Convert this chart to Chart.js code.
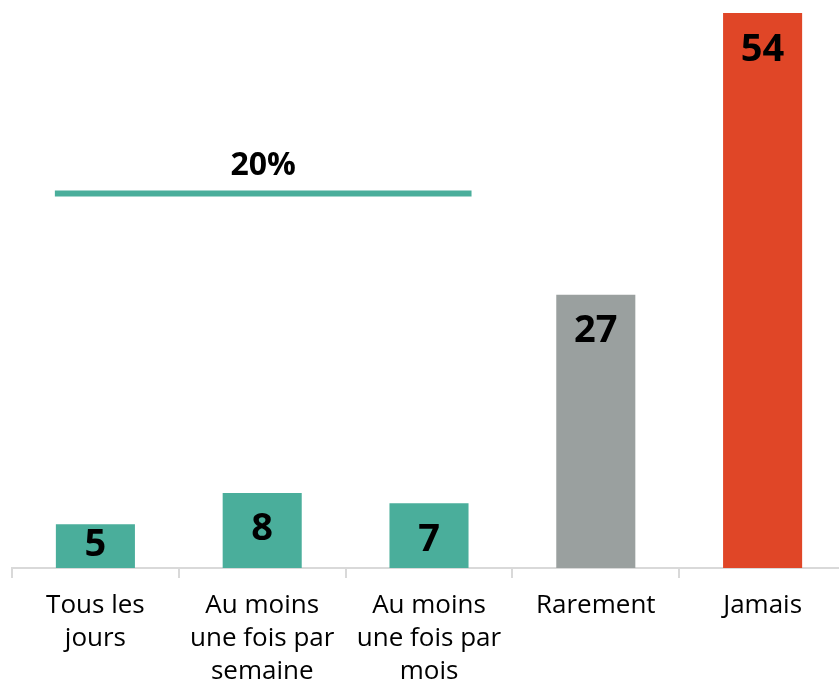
<!DOCTYPE html>
<html>
<head>
<meta charset="utf-8">
<script src="https://cdn.jsdelivr.net/npm/chart.js@4/dist/chart.umd.min.js"></script>
<style>
  html, body { margin: 0; padding: 0; background: #ffffff; overflow: hidden; }
  #wrap { width: 839px; height: 686px; overflow: hidden; }
  canvas { display: block; }
</style>
</head>
<body>
<div id="wrap"><canvas id="c" width="850" height="686"></canvas></div>
<script>
const categories = [["Tous les", "jours"], ["Au moins", "une fois par", "semaine"], ["Au moins", "une fois par", "mois"], "Rarement", "Jamais"];
const values = [5, 8, 7, 27, 54];
const barColors = ["#4AAE9B", "#4AAE9B", "#4AAE9B", "#9AA09F", "#E04627"];
const bracketIndices = [0, 1, 2];
const bracketLevel = 36.7;

const bracketTotal = bracketIndices.reduce((s, i) => s + values[i], 0);
const bracketLabel = bracketTotal + "%";

const FONT = "'Open Sans', 'Noto Sans', sans-serif";

const labelsPlugin = {
  id: 'valueLabels',
  afterDatasetsDraw(chart) {
    const ctx = chart.ctx;
    const meta = chart.getDatasetMeta(0);
    ctx.save();
    ctx.fillStyle = '#000000';
    ctx.font = "bold 38px " + FONT;
    ctx.textAlign = 'center';
    ctx.textBaseline = 'alphabetic';
    meta.data.forEach((bar, i) => {
      const y = Math.min(bar.y + 47.5, bar.base - 20.5);
      ctx.fillText(String(values[i]), bar.x, y);
    });
    // bracket line
    const first = meta.data[bracketIndices[0]];
    const last = meta.data[bracketIndices[bracketIndices.length - 1]];
    const x0 = first.x - first.width / 2 - 1;
    const x1 = last.x + last.width / 2 + 3;
    const yl = chart.scales.y.getPixelForValue(bracketLevel);
    ctx.strokeStyle = '#4AAE9B';
    ctx.lineWidth = 6;
    ctx.beginPath();
    ctx.moveTo(x0, yl);
    ctx.lineTo(x1, yl);
    ctx.stroke();
    ctx.font = "bold 32px " + FONT;
    ctx.fillText(bracketLabel, (x0 + x1) / 2, yl - 18);
    ctx.restore();
  }
};

new Chart(document.getElementById('c'), {
  type: 'bar',
  data: {
    labels: categories,
    datasets: [{
      data: values,
      backgroundColor: barColors,
      borderWidth: 0,
      barPercentage: 0.474,
      categoryPercentage: 1.0
    }]
  },
  options: {
    responsive: false,
    animation: false,
    devicePixelRatio: 1,
    layout: { padding: { left: 12, right: 4, top: 13, bottom: 0 } },
    plugins: {
      legend: { display: false },
      tooltip: { enabled: false }
    },
    scales: {
      x: {
        offset: true,
        grid: {
          offset: true,
          drawOnChartArea: false,
          drawTicks: true,
          tickLength: 10,
          color: '#D9D9D9',
          lineWidth: 2
        },
        border: { display: true, color: '#D9D9D9', width: 2 },
        ticks: {
          color: '#000000',
          font: { family: FONT, size: 26, lineHeight: 1.27 },
          padding: 11,
          maxRotation: 0,
          autoSkip: false
        },
        afterFit(scale) { scale.height = 118; }
      },
      y: {
        display: false,
        min: 0.8,
        max: 54
      }
    }
  },
  plugins: [labelsPlugin]
});
</script>
</body>
</html>
